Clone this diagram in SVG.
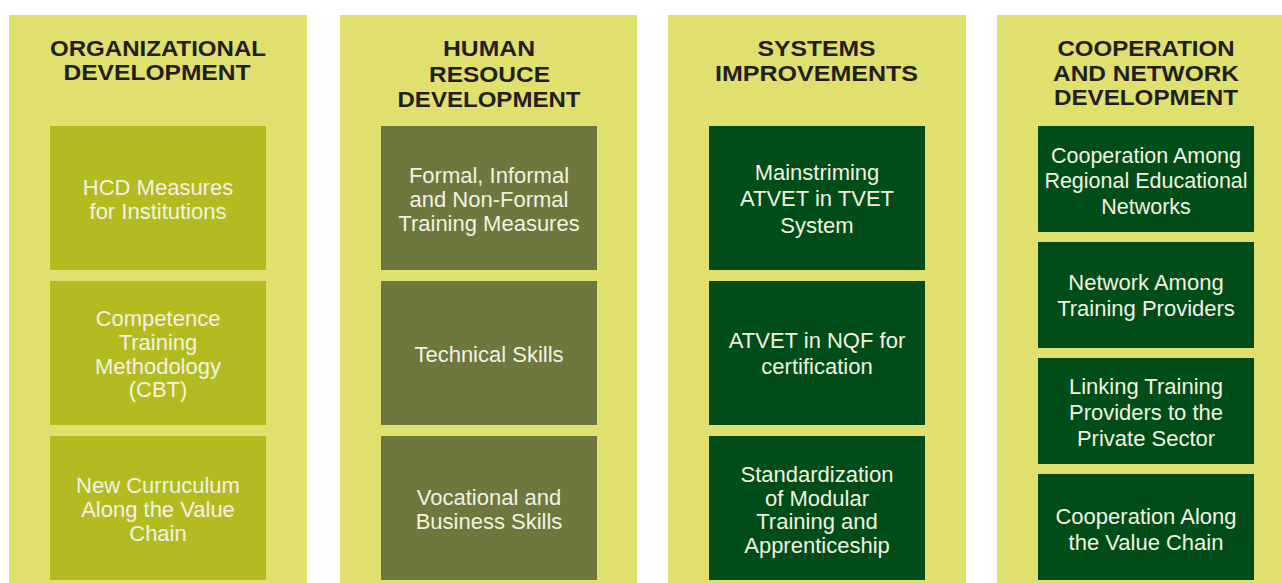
<svg xmlns="http://www.w3.org/2000/svg" width="1282" height="583" viewBox="0 0 1282 583">
<style>
.panel{fill:#E0E06E}
.c1{fill:#B2BC20}
.c2{fill:#6E773D}
.c3{fill:#004D19}
.h{font-family:"Liberation Sans",Arial,sans-serif;font-weight:bold;font-size:22.5px;fill:#231F20;text-anchor:middle}
.t{font-family:"Liberation Sans",Arial,sans-serif;font-size:22px;fill:#F2F2E2;text-anchor:middle}
.s{font-size:21.5px}
</style>
<rect width="1282" height="583" fill="#FFFFFF"/>
<g id="col-organizational">
<rect class="panel" x="9" y="15" width="298" height="568"/>
<text class="h" x="158" y="56" textLength="216" lengthAdjust="spacingAndGlyphs">ORGANIZATIONAL</text>
<text class="h" x="157" y="80" textLength="187" lengthAdjust="spacingAndGlyphs">DEVELOPMENT</text>
</g>
<g id="node-hcd">
<rect class="c1" x="50" y="126" width="216" height="144"/>
<text class="t" x="158" y="195">HCD Measures</text>
<text class="t" x="158" y="219">for Institutions</text>
</g>
<g id="node-cbt">
<rect class="c1" x="50" y="281" width="216" height="144"/>
<text class="t" x="158" y="326">Competence</text>
<text class="t" x="158" y="350">Training</text>
<text class="t" x="158" y="373.5">Methodology</text>
<text class="t" x="158" y="397">(CBT)</text>
</g>
<g id="node-curriculum">
<rect class="c1" x="50" y="436" width="216" height="144"/>
<text class="t" x="158" y="493">New Curruculum</text>
<text class="t" x="158" y="517">Along the Value</text>
<text class="t" x="158" y="541">Chain</text>
</g>
<g id="col-human">
<rect class="panel" x="340" y="15" width="297" height="568"/>
<text class="h" x="489" y="56" textLength="92" lengthAdjust="spacingAndGlyphs">HUMAN</text>
<text class="h" x="489.5" y="82" textLength="121" lengthAdjust="spacingAndGlyphs">RESOUCE</text>
<text class="h" x="489" y="107" textLength="183" lengthAdjust="spacingAndGlyphs">DEVELOPMENT</text>
</g>
<g id="node-formal">
<rect class="c2" x="381" y="126" width="216" height="144"/>
<text class="t" x="489" y="183">Formal, Informal</text>
<text class="t" x="489" y="207">and Non-Formal</text>
<text class="t" x="489" y="231">Training Measures</text>
</g>
<g id="node-technical">
<rect class="c2" x="381" y="281" width="216" height="144"/>
<text class="t" x="489" y="362">Technical Skills</text>
</g>
<g id="node-vocational">
<rect class="c2" x="381" y="436" width="216" height="144"/>
<text class="t" x="489" y="505">Vocational and</text>
<text class="t" x="489" y="529">Business Skills</text>
</g>
<g id="col-systems">
<rect class="panel" x="668" y="15" width="298" height="568"/>
<text class="h" x="816.5" y="56" textLength="118" lengthAdjust="spacingAndGlyphs">SYSTEMS</text>
<text class="h" x="816.5" y="81" textLength="203" lengthAdjust="spacingAndGlyphs">IMPROVEMENTS</text>
</g>
<g id="node-mainstreaming">
<rect class="c3" x="709" y="126" width="216" height="144"/>
<text class="t" x="817" y="179.5">Mainstriming</text>
<text class="t" x="817" y="206">ATVET in TVET</text>
<text class="t" x="817" y="232.5">System</text>
</g>
<g id="node-nqf">
<rect class="c3" x="709" y="281" width="216" height="144"/>
<text class="t" x="817" y="347.5">ATVET in NQF for</text>
<text class="t" x="817" y="374">certification</text>
</g>
<g id="node-standardization">
<rect class="c3" x="709" y="436" width="216" height="144"/>
<text class="t" x="817" y="481.5">Standardization</text>
<text class="t" x="817" y="505.5">of Modular</text>
<text class="t" x="817" y="529">Training and</text>
<text class="t" x="817" y="553">Apprenticeship</text>
</g>
<g id="col-cooperation">
<rect class="panel" x="997" y="15" width="285" height="568"/>
<text class="h" x="1146" y="56" textLength="177" lengthAdjust="spacingAndGlyphs">COOPERATION</text>
<text class="h" x="1146" y="80.5" textLength="186" lengthAdjust="spacingAndGlyphs">AND NETWORK</text>
<text class="h" x="1146" y="105" textLength="184" lengthAdjust="spacingAndGlyphs">DEVELOPMENT</text>
</g>
<g id="node-regional">
<rect class="c3" x="1038" y="126" width="216" height="106"/>
<text class="t s" x="1146" y="162.5">Cooperation Among</text>
<text class="t s" x="1146" y="188">Regional Educational</text>
<text class="t s" x="1146" y="213.5">Networks</text>
</g>
<g id="node-network">
<rect class="c3" x="1038" y="242" width="216" height="106"/>
<text class="t" x="1146" y="289.5">Network Among</text>
<text class="t" x="1146" y="316">Training Providers</text>
</g>
<g id="node-linking">
<rect class="c3" x="1038" y="358" width="216" height="106"/>
<text class="t" x="1146" y="393.5">Linking Training</text>
<text class="t" x="1146" y="420">Providers to the</text>
<text class="t" x="1146" y="446">Private Sector</text>
</g>
<g id="node-valuechain">
<rect class="c3" x="1038" y="474" width="216" height="106"/>
<text class="t" x="1146" y="523.5">Cooperation Along</text>
<text class="t" x="1146" y="549.5">the Value Chain</text>
</g>
<g id="connectors"></g>
</svg>
